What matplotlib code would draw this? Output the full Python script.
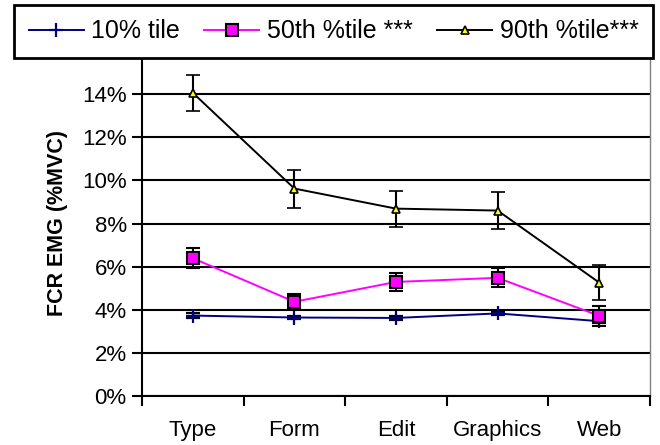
import matplotlib
matplotlib.use("Agg")
import matplotlib.pyplot as plt
import numpy as np
from matplotlib.ticker import FixedLocator, FuncFormatter
from matplotlib.lines import Line2D

categories = ["Type", "Form", "Edit", "Graphics", "Web"]
p10 = [3.73, 3.64, 3.62, 3.83, 3.47]
p10_err = [0.10, 0.09, 0.10, 0.09, 0.10]
p50 = [6.39, 4.37, 5.29, 5.48, 3.72]
p50_err = [0.46, 0.35, 0.42, 0.44, 0.46]
p90 = [14.06, 9.62, 8.69, 8.60, 5.26]
p90_err = [0.84, 0.88, 0.83, 0.87, 0.83]
yticks = [0, 2, 4, 6, 8, 10, 12, 14, 16]
labels = ["10% tile", "50th %tile ***", "90th %tile***"]

plt.rcParams['font.family'] = ['Liberation Sans', 'DejaVu Sans']

fig = plt.figure(figsize=(6.6, 4.45), dpi=100)
ax = fig.add_axes([142/660, 1-396/445, (650-142)/660, (396-51)/445])

x = np.arange(1, len(categories)+1)

lw = 1.4
ekw = dict(ecolor='black', elinewidth=1.5, capsize=5.2, capthick=1.5)

s10 = dict(color='#000080', lw=lw, marker='+', markersize=10, markeredgewidth=1.6)
s50 = dict(color='#FF00FF', lw=lw, marker='s', markersize=8,
           markerfacecolor='#FF00FF', markeredgecolor='black', markeredgewidth=1.5)
s90 = dict(color='black', lw=lw, marker='^', markersize=6,
           markerfacecolor='#FFFF00', markeredgecolor='black', markeredgewidth=1.2)

ax.errorbar(x, p10, yerr=p10_err, zorder=3, **s10, **ekw)
ax.errorbar(x, p50, yerr=p50_err, zorder=4, **s50, **ekw)
ax.errorbar(x, p90, yerr=p90_err, zorder=5, **s90, **ekw)

ax.set_xlim(0.5, len(categories)+0.5)
ax.set_ylim(0, 16)
ax.set_yticks(yticks)
ax.yaxis.set_major_formatter(FuncFormatter(lambda v, p: f"{int(v)}%"))
ax.grid(axis='y', color='black', lw=1.5, zorder=1)
ax.set_axisbelow(True)

ax.set_xticks(x)
ax.set_xticklabels(categories)
ax.xaxis.set_minor_locator(FixedLocator(np.arange(0.5, len(categories)+1, 1)))
ax.tick_params(axis='x', which='major', length=0, pad=17, labelsize=16)
ax.tick_params(axis='x', which='minor', length=7, width=1.5, direction='out')
ax.tick_params(axis='y', which='major', length=7, width=1.5, direction='out',
               labelsize=16, pad=4)

for s in ['left', 'bottom']:
    ax.spines[s].set_linewidth(1.5)
    ax.spines[s].set_color('black')
ax.spines['top'].set_visible(False)
ax.spines['right'].set_color('#808080')
ax.spines['right'].set_linewidth(1.0)

ax.set_ylabel("FCR EMG (%MVC)", fontsize=15.5, fontweight='bold', labelpad=10)

handles = [Line2D([], [], **s10), Line2D([], [], **s50), Line2D([], [], **s90)]
leg = fig.legend(handles, labels, loc='upper left',
                 bbox_to_anchor=(14/660, 1-5/445 - 0.1, 639/660, 0.1),
                 mode='expand', borderaxespad=0, ncol=3,
                 fontsize=18, frameon=True, fancybox=False, handlelength=2.2,
                 handletextpad=0.3, columnspacing=1.2, borderpad=0.58)
leg.get_frame().set_edgecolor('black')
leg.get_frame().set_linewidth(2)
leg.get_frame().set_facecolor('white')
leg.get_frame().set_alpha(1)

fig.savefig("out.png", dpi=100)
